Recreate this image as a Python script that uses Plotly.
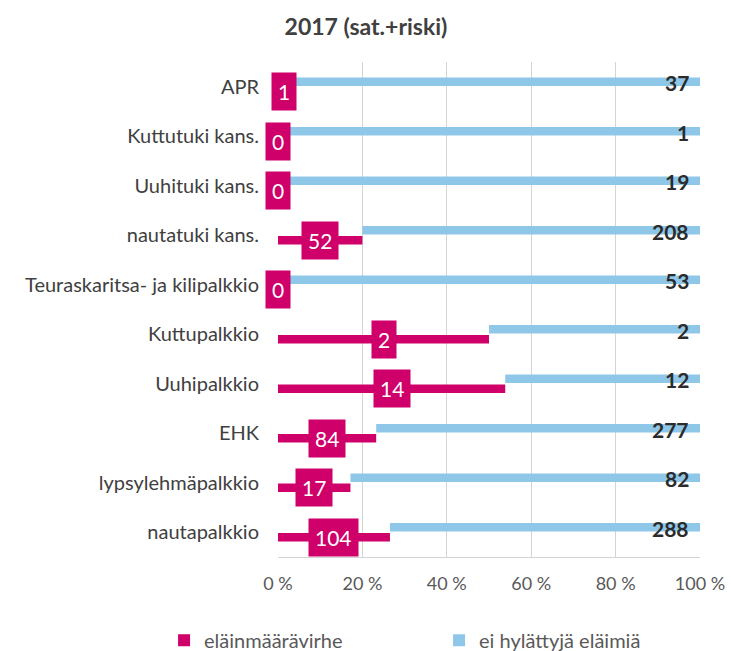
import plotly.graph_objects as go

categories = ["APR", "Kuttutuki kans.", "Uuhituki kans.", "nautatuki kans.",
              "Teuraskaritsa- ja kilipalkkio", "Kuttupalkkio", "Uuhipalkkio",
              "EHK", "lypsylehmäpalkkio", "nautapalkkio"]
virhe = [1, 0, 0, 52, 0, 2, 14, 84, 17, 104]
ei_hylatty = [37, 1, 19, 208, 53, 2, 12, 277, 82, 288]
tick_vals = [0, 20, 40, 60, 80, 100]
tick_labels = ["0 %", "20 %", "40 %", "60 %", "80 %", "100 %"]

MAG = "#cf006a"
BLUE = "#8fc7e9"
FONT = "Lato"

totals = [a + b for a, b in zip(virhe, ei_hylatty)]
p_virhe = [100 * a / t for a, t in zip(virhe, totals)]
p_ei = [100 * b / t for b, t in zip(ei_hylatty, totals)]

fig = go.Figure()
fig.add_trace(go.Bar(
    y=categories, x=p_virhe, orientation="h", name="eläinmäärävirhe",
    marker=dict(color=MAG, line=dict(width=0)), width=0.17, offset=0.015,
    hoverinfo="skip"))
fig.add_trace(go.Bar(
    y=categories, x=p_ei, base=p_virhe, orientation="h", name="ei hylättyjä eläimiä",
    marker=dict(color=BLUE, line=dict(width=0)), width=0.17, offset=-0.185,
    hoverinfo="skip"))

annotations = []
for c, v, pv in zip(categories, virhe, p_virhe):
    annotations.append(dict(
        x=pv / 2, y=c, xref="x", yref="y", text=str(v), showarrow=False,
        xanchor="center", yanchor="middle", yshift=-5,
        font=dict(family=FONT, size=21, color="white"),
        bgcolor=MAG, borderpad=6))
for c, v in zip(categories, ei_hylatty):
    annotations.append(dict(
        x=100, y=c, xref="x", yref="y", text="<b>%d</b>" % v, showarrow=False,
        xanchor="right", yanchor="middle", xshift=-9, yshift=4,
        font=dict(family=FONT, size=21, color="#2b2b2b")))

fig.update_layout(
    width=732, height=651,
    margin=dict(l=278, r=32, t=62, b=94, autoexpand=False),
    paper_bgcolor="white", plot_bgcolor="white",
    barmode="overlay",
    title=dict(text="<b>2017 (sat.+riski)</b>", x=0.5, xanchor="center",
               y=1 - 27 / 651, yanchor="middle",
               font=dict(family=FONT, size=23, color="#404040")),
    xaxis=dict(range=[0, 100], tickvals=tick_vals, ticktext=tick_labels,
               showgrid=True, gridcolor="#d4d4d4", gridwidth=1,
               zeroline=False, showline=True, linecolor="#d4d4d4", linewidth=1,
               ticks="", ticklabelstandoff=10,
               tickfont=dict(family=FONT, size=18, color="#595959")),
    yaxis=dict(autorange="reversed", showgrid=False, zeroline=False,
               ticks="", ticklabelstandoff=18,
               tickfont=dict(family=FONT, size=20, color="#404040")),
    legend=dict(orientation="h", x=-0.27, xanchor="left", y=-0.168, yanchor="middle",
                font=dict(family=FONT, size=20, color="#595959"),
                entrywidth=230, entrywidthmode="pixels",
                itemclick=False, itemdoubleclick=False),
    annotations=annotations,
    showlegend=True,
)

fig.write_html("out.html", config={"displayModeBar": False},
               post_script="document.body.style.margin='0';")
